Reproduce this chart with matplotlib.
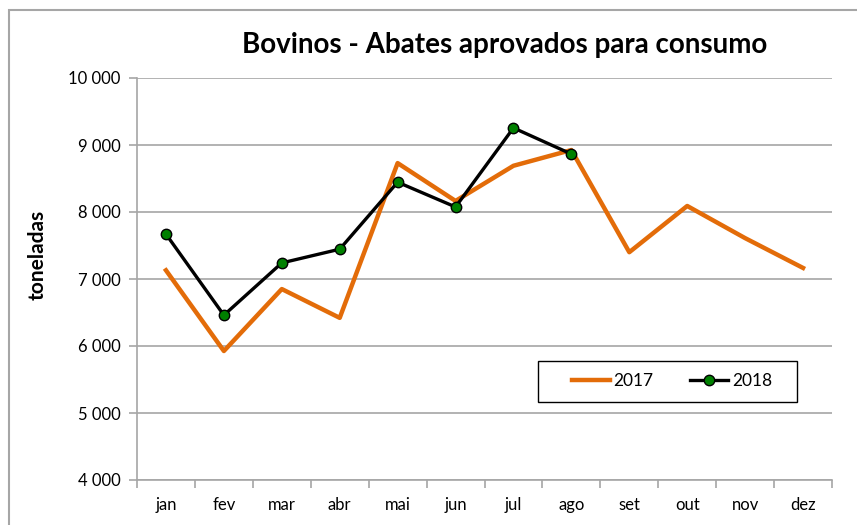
import matplotlib.pyplot as plt
from matplotlib.patches import Rectangle
from matplotlib.ticker import FuncFormatter, FixedLocator
import numpy as np

meses = ['jan', 'fev', 'mar', 'abr', 'mai', 'jun', 'jul', 'ago', 'set', 'out', 'nov', 'dez']
v2017 = [7130, 5925, 6850, 6420, 8730, 8165, 8690, 8925, 7400, 8090, 7610, 7165]
v2018 = [7670, 6460, 7240, 7445, 8445, 8075, 9255, 8865]

plt.rcParams['font.family'] = ['Lato', 'DejaVu Sans']

W, H = 857, 525
fig = plt.figure(figsize=(W/100, H/100), dpi=100)
# outer chart frame (like the Excel chart area)
fig.patches.append(Rectangle((9/W, -0.1), 1.1, 1.1 - 10/H,
                             transform=fig.transFigure, fill=False,
                             edgecolor='#a6a6a6', linewidth=1.5))

ax = fig.add_axes([137/W, 1 - 480/H, (832 - 137)/W, (480 - 78)/H])

x = np.arange(len(meses))
ax.plot(x, v2017, color='#E36C09', linewidth=3.2, label='2017', zorder=3)
ax.plot(x[:len(v2018)], v2018, color='black', linewidth=2.4, marker='o',
        markersize=7.5, markerfacecolor='#008000', markeredgecolor='black',
        markeredgewidth=1, label='2018', zorder=4)

ax.set_xlim(-0.5, 11.5)
ax.set_ylim(4000, 10000)
ax.set_yticks(range(4000, 10001, 1000))
ax.yaxis.set_major_formatter(FuncFormatter(lambda v, p: f'{int(v):,}'.replace(',', ' ')))
ax.grid(axis='y', color='#a6a6a6', linewidth=1.2)
ax.set_axisbelow(True)

ax.set_xticks(x)
ax.set_xticklabels(meses)
ax.xaxis.set_minor_locator(FixedLocator(np.arange(-0.5, 12, 1)))
ax.tick_params(axis='x', which='major', length=0, pad=12, labelsize=12)
ax.tick_params(axis='x', which='minor', length=6, color='#a6a6a6', width=1.2)
ax.tick_params(axis='y', length=6, color='#a6a6a6', width=1.2, labelsize=12, pad=6)

for s in ['top', 'right']:
    ax.spines[s].set_visible(False)
for s in ['left', 'bottom']:
    ax.spines[s].set_color('#a6a6a6')
    ax.spines[s].set_linewidth(1.2)

ax.set_ylabel('toneladas', fontsize=15, fontweight='bold')
ax.yaxis.set_label_coords((48 - 137)/695, (480 - 255)/402)
fig.text(505/W, 1 - 45/H, 'Bovinos - Abates aprovados para consumo',
         ha='center', va='center', fontsize=20, fontweight='bold')

# legend box
ax.add_patch(Rectangle((538/W, 1 - 402/H), (797 - 538)/W, 41/H,
                       transform=fig.transFigure, facecolor='white',
                       edgecolor='black', linewidth=1, zorder=5, clip_on=False))
leg = ax.legend(loc='center', bbox_to_anchor=(672/W, 1 - 381/H),
                bbox_transform=fig.transFigure, ncol=2, frameon=False,
                fontsize=12.5, handlelength=2.2, handletextpad=0.2, columnspacing=2.1)
leg.set_zorder(6)

fig.savefig('out.png', dpi=100)
